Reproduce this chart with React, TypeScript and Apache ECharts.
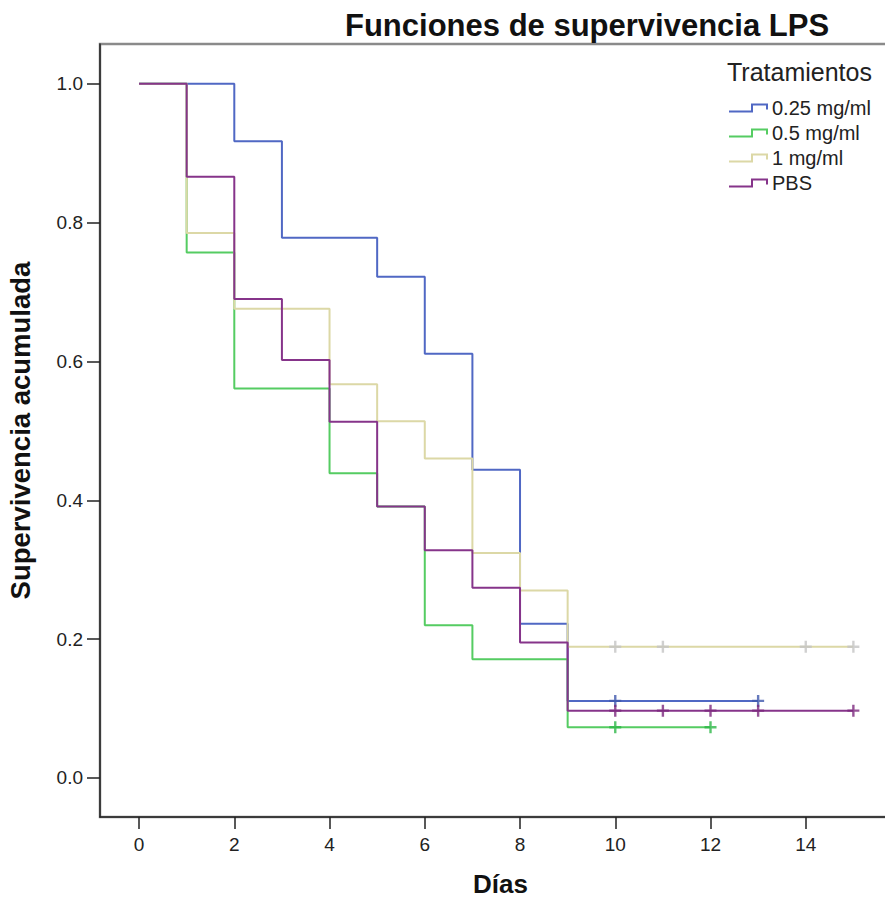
import React, { useEffect, useRef } from "react";
import * as echarts from "echarts";

// ---- Data ----
const seriesNames = ["0.25 mg/ml", "0.5 mg/ml", "1 mg/ml", "PBS"];

const times025 = [0, 2, 3, 5, 6, 7, 8, 9, 13];
const surv025 = [1.0, 0.917, 0.778, 0.722, 0.611, 0.444, 0.222, 0.111, 0.111];
const censor025 = [10, 13];

const times05 = [0, 1, 2, 4, 5, 6, 7, 9, 12];
const surv05 = [1.0, 0.757, 0.561, 0.439, 0.391, 0.22, 0.171, 0.073, 0.073];
const censor05 = [10, 12];

const times1 = [0, 1, 2, 4, 5, 6, 7, 8, 9, 15];
const surv1 = [1.0, 0.785, 0.676, 0.567, 0.514, 0.46, 0.324, 0.27, 0.189, 0.189];
const censor1 = [10, 11, 14, 15];

const timesPBS = [0, 1, 2, 3, 4, 5, 6, 7, 8, 9, 15];
const survPBS = [1.0, 0.866, 0.69, 0.602, 0.513, 0.391, 0.328, 0.274, 0.195, 0.097, 0.097];
const censorPBS = [10, 11, 12, 13, 15];

const xTicks = [0, 2, 4, 6, 8, 10, 12, 14];
const yTicks = [0, 0.2, 0.4, 0.6, 0.8, 1.0];

const lineColors = ["#5068c4", "#55cc62", "#dcd8a6", "#86348a"];
const censorColors = ["#3E58AC", "#2EB848", "#c4c4c4", "#7C287D"];

const CROSS =
  "path://M4.8,0 H7.2 V4.8 H12 V7.2 H7.2 V12 H4.8 V7.2 H0 V4.8 H4.8 Z";
const STEP_ICON = "path://M0,7 H22 V0 H39 V6 H37 V2 H24 V9 H0 Z";

export default function App() {
  const ref = useRef<HTMLDivElement>(null);

  useEffect(() => {
    if (!ref.current) return;
    const chart = echarts.init(ref.current, undefined, { renderer: "svg" });

    const groups = [
      { t: times025, s: surv025, c: censor025 },
      { t: times05, s: surv05, c: censor05 },
      { t: times1, s: surv1, c: censor1 },
      { t: timesPBS, s: survPBS, c: censorPBS },
    ];

    const lineSeries = groups.map((g, i) => ({
      name: seriesNames[i],
      type: "line",
      step: "end",
      symbol: "none",
      data: g.t.map((t, k) => [t, g.s[k]]),
      color: lineColors[i],
      lineStyle: { color: lineColors[i], width: 2 },
      z: 2 + i,
    }));

    const censorSeries = groups.map((g, i) => ({
      name: seriesNames[i] + " censurado",
      type: "scatter",
      symbol: CROSS,
      symbolSize: 12,
      data: g.c.map((t) => [t, g.s[g.s.length - 1]]),
      itemStyle: { color: censorColors[i] },
      z: 10 + i,
      silent: true,
    }));

    const font = "'Liberation Sans', Arial, sans-serif";

    chart.setOption({
      animation: false,
      backgroundColor: "#ffffff",
      title: [
        {
          text: "Funciones de supervivencia LPS",
          left: 340,
          top: 5,
          padding: 5,
          textStyle: {
            fontFamily: font,
            fontSize: 31,
            fontWeight: "bold",
            color: "#111",
          },
        },
        {
          text: "Tratamientos",
          left: 722,
          top: 54,
          padding: 5,
          textStyle: {
            fontFamily: font,
            fontSize: 25,
            fontWeight: "normal",
            color: "#222",
          },
        },
      ],
      legend: {
        data: seriesNames,
        orient: "vertical",
        left: 729,
        top: 98,
        padding: 0,
        icon: STEP_ICON,
        symbolKeepAspect: false,
        itemWidth: 39,
        itemHeight: 9,
        itemGap: 5,
        textStyle: {
          fontFamily: font,
          fontSize: 20,
          color: "#222",
          padding: [0, 0, 0, -1],
        },
      },
      grid: {
        left: 100,
        top: 44,
        right: 4,
        bottom: 81,
        show: true,
        borderColor: "#8a8a8a",
        borderWidth: 2.5,
        containLabel: false,
        outerBoundsMode: "none",
      },
      xAxis: {
        type: "value",
        min: -0.82,
        max: 16,
        name: "Días",
        nameLocation: "middle",
        nameGap: 54,
        nameTextStyle: {
          fontFamily: font,
          fontSize: 26,
          fontWeight: "bold",
          color: "#111",
        },
        axisLine: {
          show: true,
          onZero: false,
          lineStyle: { color: "#222", width: 1.5 },
        },
        axisTick: {
          show: true,
          length: 12,
          customValues: xTicks,
          lineStyle: { color: "#222", width: 1.5 },
        },
        axisLabel: {
          customValues: xTicks,
          margin: 18,
          fontFamily: font,
          fontSize: 19,
          color: "#222",
        },
        splitLine: { show: false },
      },
      yAxis: {
        type: "value",
        min: -0.0562,
        max: 1.0572,
        name: "Supervivencia acumulada",
        nameLocation: "middle",
        nameGap: 66,
        nameRotate: 90,
        nameTextStyle: {
          fontFamily: font,
          fontSize: 27.5,
          fontWeight: "bold",
          color: "#111",
        },
        axisLine: {
          show: true,
          onZero: false,
          lineStyle: { color: "#222", width: 1.5 },
        },
        axisTick: {
          show: true,
          length: 13,
          customValues: yTicks,
          lineStyle: { color: "#222", width: 1.5 },
        },
        axisLabel: {
          customValues: yTicks,
          margin: 17,
          fontFamily: font,
          fontSize: 19,
          color: "#222",
          formatter: (v: number) => v.toFixed(1),
        },
        splitLine: { show: false },
      },
      series: [...lineSeries, ...censorSeries],
    });

    return () => chart.dispose();
  }, []);

  return (
    <div
      ref={ref}
      style={{ position: "fixed", left: 0, top: 0, width: 905, height: 898 }}
    />
  );
}
